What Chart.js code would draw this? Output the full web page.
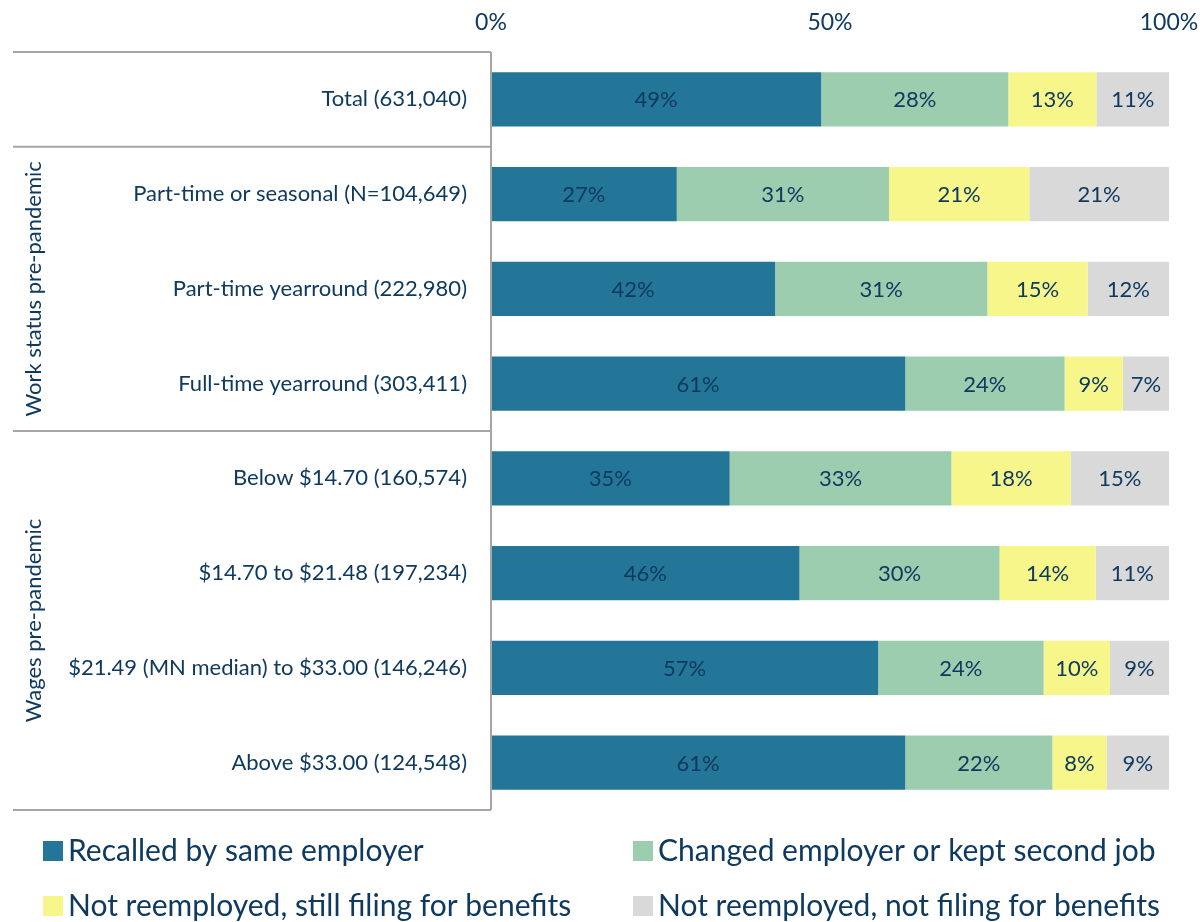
<!doctype html>
<html lang="en">
<head>
<meta charset="UTF-8" />
<title>Reemployment status by work status and wages</title>
<style>
  html, body { margin: 0; padding: 0; background: #ffffff; }
  #wrap { width: 1200px; height: 922px; }
</style>
</head>
<body>
<div id="wrap"><canvas id="canvas" width="1200" height="922"></canvas></div>

<script src="https://cdn.jsdelivr.net/npm/chart.js"></script>
<script>
// row labels, top to bottom
const categories = [
  'Total (631,040)',
  'Part-time or seasonal (N=104,649)',
  'Part-time yearround (222,980)',
  'Full-time yearround (303,411)',
  'Below $14.70 (160,574)',
  '$14.70 to $21.48 (197,234)',
  '$21.49 (MN median) to $33.00 (146,246)',
  'Above $33.00 (124,548)'
]
// shares in percent
const recalled    = [48.7, 27.4, 41.9, 61.1, 35.2, 45.5, 57.1, 61.1]
const changed     = [27.6, 31.3, 31.3, 23.5, 32.7, 29.5, 24.4, 21.7]
const stillFiling = [13.0, 20.7, 14.8,  8.6, 17.6, 14.2,  9.8,  8.0]
const notFiling   = [10.7, 20.6, 12.0,  6.8, 14.5, 10.8,  8.7,  9.2]
const seriesNames = [
  'Recalled by same employer',
  'Changed employer or kept second job',
  'Not reemployed, still filing for benefits',
  'Not reemployed, not filing for benefits'
]
const xTicks = [0, 50, 100]
// group labels: [first row, last row, text]
const groups = [[1, 3, 'Work status pre-pandemic'], [4, 7, 'Wages pre-pandemic']]

const TEXT = '#0f3a60'
const LINE = '#a6a6a6'
const FONT = 'Lato, "Open Sans", sans-serif'
const colors = ['#237698', '#9ccdae', '#f6f68b', '#d9d9d9']

function ds(i, vals) {
  return {
    label: seriesNames[i],
    data: vals,
    backgroundColor: colors[i],
    borderWidth: 0,
    barPercentage: 0.57,
    categoryPercentage: 1
  }
}

// numbers inside the segments
const valueLabels = {
  id: 'valueLabels',
  afterDatasetsDraw(chart) {
    const {ctx} = chart
    ctx.save()
    ctx.font = '22px ' + FONT
    ctx.fillStyle = TEXT
    ctx.textAlign = 'center'
    ctx.textBaseline = 'middle'
    chart.data.datasets.forEach((d, i) => {
      chart.getDatasetMeta(i).data.forEach((bar, j) => {
        const p = bar.getProps(['x', 'y', 'base'], true)
        ctx.fillText(Math.round(d.data[j]) + '%', (p.x + p.base) / 2, p.y + 1)
      })
    })
    ctx.restore()
  }
}

// table lines on the left and the rotated group labels
const frame = {
  id: 'frame',
  afterDraw(chart) {
    const {ctx, chartArea} = chart
    const y = chart.scales.y
    const left = 13
    const between = i => (y.getPixelForValue(i) + y.getPixelForValue(i + 1)) / 2
    ctx.save()
    ctx.strokeStyle = LINE
    ctx.lineWidth = 2
    const hs = [chartArea.top, between(0), between(3), chartArea.bottom]
    ctx.beginPath()
    hs.forEach(h => { ctx.moveTo(left, h); ctx.lineTo(chartArea.left, h) })
    ctx.moveTo(chartArea.left, chartArea.top)
    ctx.lineTo(chartArea.left, chartArea.bottom)
    ctx.stroke()

    ctx.font = '22px ' + FONT
    ctx.fillStyle = TEXT
    ctx.textAlign = 'center'
    ctx.textBaseline = 'middle'
    groups.forEach(g => {
      const top = between(g[0] - 1)
      const bot = g[1] === categories.length - 1 ? chartArea.bottom : between(g[1])
      ctx.save()
      ctx.translate(34, (top + bot) / 2)
      ctx.rotate(-Math.PI / 2)
      ctx.fillText(g[2], 0, 0)
      ctx.restore()
    })
    ctx.restore()
  }
}

// two-column legend under the plot
const legendBox = {
  id: 'legendBox',
  afterDraw(chart) {
    const {ctx} = chart
    const cols = [43, 633]
    const rows = [851, 906]
    ctx.save()
    ctx.font = '30px ' + FONT
    ctx.textBaseline = 'middle'
    chart.data.datasets.forEach((d, i) => {
      const x = cols[i % 2], yy = rows[Math.floor(i / 2)]
      ctx.fillStyle = d.backgroundColor
      ctx.fillRect(x, yy - 10, 20, 20)
      ctx.fillStyle = TEXT
      ctx.fillText(d.label, x + 25, yy)
    })
    ctx.restore()
  }
}

const chart = new Chart(document.getElementById('canvas'), {
  type: 'bar',
  data: {
    labels: categories,
    datasets: [ds(0, recalled), ds(1, changed), ds(2, stillFiling), ds(3, notFiling)]
  },
  options: {
    indexAxis: 'y',
    responsive: false,
    animation: false,
    layout: { padding: { top: 0, right: 0, bottom: 112, left: 0 } },
    plugins: { legend: { display: false }, tooltip: { enabled: false } },
    scales: {
      x: {
        position: 'top',
        stacked: true,
        min: 0,
        max: 100,
        afterBuildTicks: s => { s.ticks = xTicks.map(v => ({value: v})) },
        grid: { display: false, drawTicks: false },
        border: { display: false },
        ticks: {
          color: TEXT,
          font: { family: FONT, size: 23 },
          padding: 16,
          callback: v => v + '%'
        },
        afterFit: s => { s.height = 52; s.paddingLeft = 0; s.paddingRight = 31 }
      },
      y: {
        stacked: true,
        grid: { display: false, drawTicks: false },
        border: { display: false },
        ticks: {
          color: TEXT,
          font: { family: FONT, size: 22 },
          padding: 24
        },
        afterFit: s => { s.width = 491 }
      }
    }
  },
  plugins: [valueLabels, frame, legendBox]
})
</script>
</body>
</html>
